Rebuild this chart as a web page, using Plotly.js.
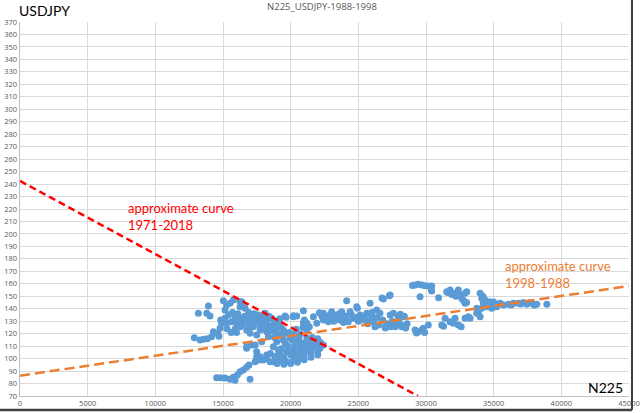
<!DOCTYPE html>
<html>
<head>
<meta charset="utf-8">
<script src="https://cdn.plot.ly/plotly-3.0.1.min.js"></script>
<style>html,body{margin:0;padding:0;background:#fff;}#chart{width:644px;height:413px;}</style>
</head>
<body>
<div id="chart"></div>
<script>
// N225 (x) and USDJPY (y), 1988-1998
const n225 = [
12880,13300,13550,13840,14160,14290,14610,14780,14900,14830,15150,15270,15400,15150,15270,15520,15760,16260,16380,16630,
15890,15640,16010,16260,16500,16750,17000,17240,17490,17740,17980,18230,18480,18720,18970,19090,17610,17980,16750,17000,
17490,13920,13180,13800,14040,15030,16260,16500,16260,17120,18110,18600,19090,17740,18230,18350,17860,16750,17120,17490,
17740,17980,18230,18480,18840,19090,16750,17370,17740,18230,18720,19210,19710,20200,20690,19210,19710,20200,20690,21190,
21680,22170,22420,18720,18970,19460,19950,20450,20940,21430,21930,19710,20200,20700,21190,21190,19460,17370,17490,
14530,14830,15150,15520,15760,16060,16260,16500,16750,16920,17000,15890,
18500,19000,19500,20000,20500,21000,21500,22000,19300,19800,20300,20800,21300,21800,22200,19000,19500,20000,20500,21000,
21500,22000,20100,20600,21600,22000,19600,20400,20900,21400,18800,19300,19900,20400,20900,
16400,16900,17300,17700,18100,18600,18900,19300,16600,17100,17600,18400,18800,19200,16100,16900,17300,17900,18300,18700,
19400,15700,15900,16000,15600,15300,14700,
19660,20200,20450,20940,20940,21190,21380,21930,22120,22420,22660,22790,23030,23160,23400,23650,23770,24020,24140,24260,
24390,24630,24930,25130,25370,25620,25870,25990,26230,26360,26600,26850,27290,26970,27350,27590,27960,27350,27710,28200,
26110,22420,21680,21010,21190,20200,19580,24880,26750,27350,
22300,22900,23300,23600,24100,24500,24800,25000,25300,25500,25800,26000,26400,26800,27100,27500,27800,28000,28400,28600,
28100,23900,23200,25700,26500,27000,28500,
28330,28450,28200,29190,29430,29680,29800,30170,29300,29900,31160,31410,31780,32020,32150,32390,32890,33130,33260,33750,
34120,33870,34000,29190,29430,29680,29930,30170,30420,30420,29560,30930,31530,31780,32020,32390,32520,32640,32890,33010,
34000,34120,34360,34240,34490,33750,34730,34980,35230,35470,35720,36090,36460,36830,37200,37450,37820,38180,38930,34730,
34860,32200,31900,34200,34600,35000,36300,37000,37600,38000,31300,32600,29000,32800,33000,32890,31600,30400
];
const usdjpy = [
116.8,114.9,115.5,116,117.6,121.6,120.3,124.3,128.3,131,132.3,128.3,135,139,143,144.3,147,141.6,145.6,140.3,
133.6,129.6,128.3,125.6,129.6,131,128.3,125.6,129.6,132.3,125.6,129.6,122.9,127,120.3,129.6,135,133.6,122.9,120.3,
119,142.2,136.3,136.3,134.2,146.4,145.6,141.6,132.3,125.6,136.3,132.3,127,122.9,121.6,117.6,113.5,109.5,110.9,105.5,
101.5,98.9,102.9,97.5,101.5,106.9,108.3,110.9,98.9,100.2,97.5,98.9,97.5,98.9,100.2,104.2,105.5,106.9,108.3,106.9,
109.5,108.3,110.9,109.5,113.5,114.9,116.3,113.5,112.3,113.5,112.3,120.3,118.9,119.5,116.3,122.9,122.9,97.5,101.5,
84.7,84.7,84.4,83.4,85,86.8,89.5,90.9,93,94.8,83.4,82.6,
104,102,101,103,104,103,105,106,108,110,111,110,110,111,113,96,95.5,96,97,99,
101,103,115,116,117,116,112,102,105,108,117,118.5,121,123.5,125,
127,126,131,127,124,125,124,125,134,133,131,134,130,132,136,137,136,129,126.5,122,
119,137,124,121,121,124,118,
133.1,134.4,134.2,138.4,128.8,128.3,125.6,128.3,136.8,136.3,133.6,129.6,137.6,132.3,135,131,137.6,134.2,146.4,129.6,
137.6,132.3,140.3,135,131,136.3,144.3,133.6,125.6,139,136.3,147.8,150.4,125.6,135,136.3,133.6,125.6,125.6,125.6,
129.6,131,133.6,131,127.7,133.6,134.2,141.6,148.6,151,
134,135,133,136,131,135,133,130,134,132,130,137,133,131,128,130,128,131,134,128,
135.5,129,130,128,127,124.5,124.5,
133.6,125.6,126.5,122.9,121.6,122.9,124.3,127,120.5,121,127,132.3,129.6,128.3,132.3,127,132.3,133.6,132.3,136.3,
140.3,136.3,133.6,159,159.6,159,158.5,158.2,158.2,154.2,149.6,148.8,153.6,155,152.4,155,151,148.3,152.4,153.6,
152.4,148.3,147,144.3,141.6,140.3,145.6,143,141.6,144.3,143,143.5,144.3,144.3,145.1,143.5,144.3,143.5,143.5,141.6,
140.3,150,151.5,150,143,145.5,143,143.8,144.8,142.8,126,125.5,158.6,146.5,145,144.3,153,155
];
// approximate (trend) lines, endpoints
const redTrendX = [0, 29400];
const redTrendY = [242.5, 70];
const orangeTrendX = [0, 45000];
const orangeTrendY = [86.3, 158.2];
// axis ticks
const xTicks = [0,5000,10000,15000,20000,25000,30000,35000,40000,45000];
const yTicks = [];
for (let v = 70; v <= 370; v += 10) yTicks.push(v);

const tickFont = {family: 'Open Sans, sans-serif', size: 7.5, color: '#595959'};
const traces = [
  {type: 'scatter', mode: 'markers', x: n225, y: usdjpy,
   marker: {color: '#5B9BD5', size: 7, line: {width: 0}}, cliponaxis: true, hoverinfo: 'x+y'},
  {type: 'scatter', mode: 'lines', x: redTrendX, y: redTrendY,
   line: {color: '#FF0000', width: 2.5, dash: '7px,4px'}},
  {type: 'scatter', mode: 'lines', x: orangeTrendX, y: orangeTrendY,
   line: {color: '#ED7D31', width: 2.5, dash: '10px,5px'}}
];
const layout = {
  width: 644, height: 413,
  margin: {l: 20, r: 15, t: 22, b: 17, pad: 0},
  paper_bgcolor: '#ffffff', plot_bgcolor: '#ffffff',
  showlegend: false,
  title: {text: 'N225_USDJPY-1988-1998', x: 0.5, xref: 'container', y: 0.983, yref: 'container', yanchor: 'middle',
          font: {family: 'Open Sans, sans-serif', size: 9.5, color: '#595959'}},
  xaxis: {range: [0, 45000], tickvals: xTicks, ticktext: xTicks.map(String), showgrid: true, gridcolor: '#D9D9D9', gridwidth: 1,
          showline: true, linecolor: '#BFBFBF', linewidth: 1, zeroline: false, ticks: '', tickfont: tickFont,
          automargin: false, fixedrange: true},
  yaxis: {range: [70, 370], tickvals: yTicks, ticktext: yTicks.map(String), showgrid: true, gridcolor: '#D9D9D9', gridwidth: 1,
          showline: true, linecolor: '#BFBFBF', linewidth: 1.5, zeroline: false, ticks: '', tickfont: tickFont,
          automargin: false, fixedrange: true},
  annotations: [
    {text: 'USDJPY', xref: 'paper', yref: 'paper', x: -0.005, y: 1.032, xanchor: 'left', yanchor: 'middle', showarrow: false,
     font: {family: 'Lato, sans-serif', size: 14, color: '#000000'}},
    {text: 'N225', xref: 'paper', yref: 'paper', x: 0.993, y: 0.024, xanchor: 'right', yanchor: 'middle', showarrow: false,
     font: {family: 'Lato, sans-serif', size: 14, color: '#000000'}},
    {text: 'approximate curve<br>1971-2018', xref: 'x', yref: 'y', x: 7830, y: 214, xanchor: 'left', yanchor: 'middle',
     align: 'left', showarrow: false, font: {family: 'Lato, sans-serif', size: 13, color: '#FF0000'}},
    {text: 'approximate curve<br>1998-1988', xref: 'x', yref: 'y', x: 35690, y: 167.4, xanchor: 'left', yanchor: 'middle',
     align: 'left', showarrow: false, font: {family: 'Lato, sans-serif', size: 13, color: '#ED7D31'}}
  ],
  shapes: [
    {type: 'line', xref: 'paper', yref: 'paper', x0: -0.04, x1: 1.0049, y0: -0.0374, y1: -0.0374,
     line: {color: '#404040', width: 2.5}},
    {type: 'line', xref: 'paper', yref: 'paper', x0: 1.0049, x1: 1.0049, y0: -0.0374, y1: 1.07,
     line: {color: '#404040', width: 2}}
  ]
};
Plotly.newPlot('chart', traces, layout, {displayModeBar: false, staticPlot: true});
</script>
</body>
</html>
